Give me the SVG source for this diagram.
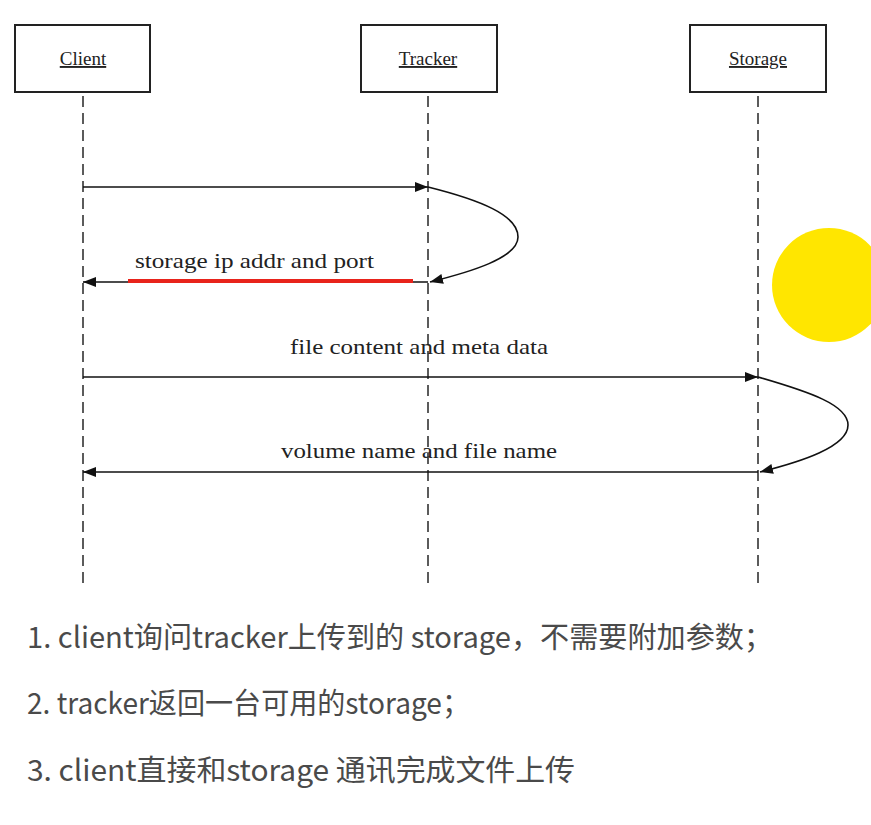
<svg xmlns="http://www.w3.org/2000/svg" width="871" height="825" viewBox="0 0 871 825">
<defs>
<style>
.box{fill:#fff;stroke:#222;stroke-width:2}
.lbl{font-family:"Liberation Serif","Times New Roman",serif;font-size:19px;fill:#222;text-anchor:middle;text-decoration:underline}
.life{stroke:#333;stroke-width:1.6;stroke-dasharray:11 6;fill:none}
.msg{stroke:#111;stroke-width:1.6;fill:none}
.mtxt{font-family:"Liberation Serif","Times New Roman",serif;font-size:21px;fill:#222}
.note{font-family:"Noto Sans CJK SC","Noto Sans",sans-serif;font-size:29px;fill:#4a4a4a}
</style>
<marker id="ah" viewBox="0 0 13 10" refX="13" refY="5" markerWidth="13" markerHeight="10" markerUnits="userSpaceOnUse" orient="auto">
<path d="M0,0 L13,5 L0,10 Z" fill="#111"/>
</marker>
</defs>
<rect width="871" height="825" fill="#fff"/>
<circle cx="829" cy="285" r="57" fill="#ffe600"/>
<g id="client">
<rect class="box" x="15" y="25" width="135" height="67"/>
<text class="lbl" x="83" y="65">Client</text>
</g>
<g id="tracker">
<rect class="box" x="361" y="25" width="136" height="67"/>
<text class="lbl" x="428" y="65">Tracker</text>
</g>
<g id="storage">
<rect class="box" x="690" y="25" width="136" height="67"/>
<text class="lbl" x="758" y="65">Storage</text>
</g>
<g id="connectors">
<line class="life" x1="83" y1="96" x2="83" y2="588"/>
<line class="life" x1="428" y1="96" x2="428" y2="588"/>
<line class="life" x1="758" y1="96" x2="758" y2="588"/>
<line class="msg" x1="83" y1="187" x2="428" y2="187" marker-end="url(#ah)"/>
<path class="msg" d="M428,187 C480,200 518,215 518,237 C518,258 470,272 430,282" marker-end="url(#ah)"/>
<line class="msg" x1="428" y1="282" x2="83" y2="282" marker-end="url(#ah)"/>
<line x1="128" y1="281" x2="413" y2="281" stroke="#e8231b" stroke-width="4"/>
<text class="mtxt" x="135" y="268" textLength="239" lengthAdjust="spacingAndGlyphs">storage ip addr and port</text>
<text class="mtxt" x="290" y="354" textLength="258" lengthAdjust="spacingAndGlyphs">file content and meta data</text>
<line class="msg" x1="83" y1="377" x2="758" y2="377" marker-end="url(#ah)"/>
<path class="msg" d="M758,377 C810,392 848,405 848,425 C848,447 800,462 760,472" marker-end="url(#ah)"/>
<text class="mtxt" x="281" y="458" textLength="276" lengthAdjust="spacingAndGlyphs">volume name and file name</text>
<line class="msg" x1="758" y1="472" x2="83" y2="472" marker-end="url(#ah)"/>
</g>
<text class="note" x="27" y="648" textLength="746" lengthAdjust="spacingAndGlyphs">1. client询问tracker上传到的 storage，不需要附加参数；</text>
<text class="note" x="27" y="714" textLength="443" lengthAdjust="spacingAndGlyphs">2. tracker返回一台可用的storage；</text>
<text class="note" x="27" y="781" textLength="548" lengthAdjust="spacingAndGlyphs">3. client直接和storage 通讯完成文件上传</text>
</svg>
